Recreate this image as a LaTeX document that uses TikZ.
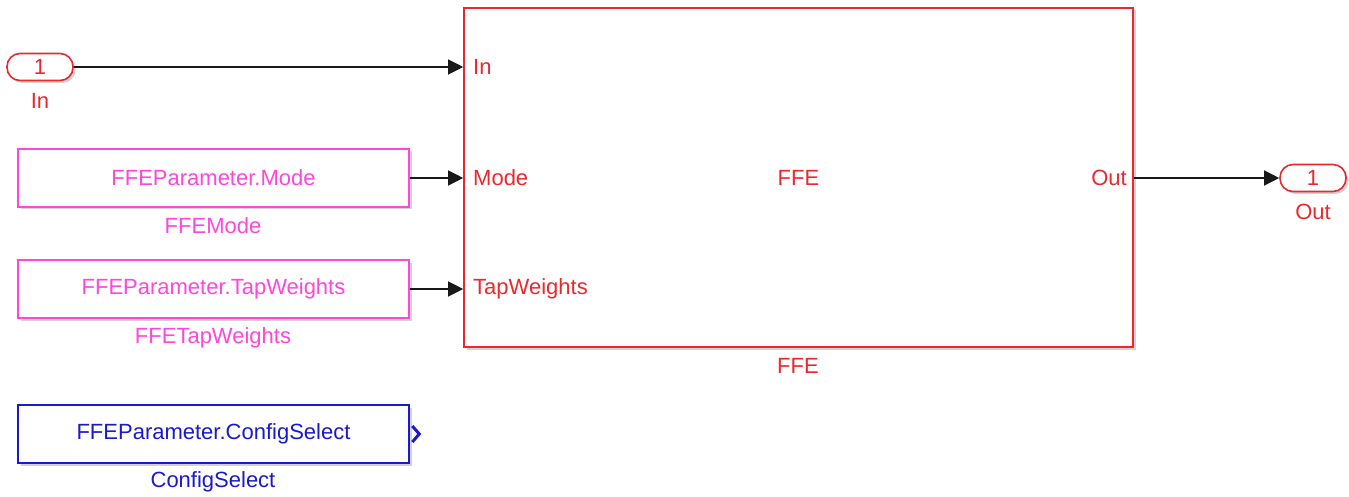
\documentclass[tikz,border=0pt]{standalone}
\usepackage{fontspec}
\setmainfont{Liberation Sans}
\usetikzlibrary{arrows.meta,shadows,positioning}

\definecolor{simred}{RGB}{235,40,45}
\definecolor{simpink}{RGB}{255,70,220}
\definecolor{simblue}{RGB}{25,25,205}

\tikzset{
  blk/.style={draw,line width=1.6pt,fill=white,inner sep=0pt,
    drop shadow={shadow xshift=2.5pt,shadow yshift=-2.5pt,fill=black!35},
    font=\fontsize{22}{26}\selectfont},
  port/.style={blk,rounded corners=13pt,minimum width=66pt,minimum height=27pt,
    draw=simred,text=simred},
  const/.style={blk,minimum width=391pt,minimum height=58pt},
  lbl/.style={inner sep=0pt,font=\fontsize{22}{26}\selectfont},
  sig/.style={-{Triangle[length=15pt,width=15pt]},line width=1.2pt,black!90},
}

\begin{document}
\begin{tikzpicture}[x=1pt,y=-1pt]
  \useasboundingbox (0,0) rectangle (1349,497);

  % inport
  \node[port] (inport) at (40,67) {1};
  \node[lbl,text=simred] (inlbl) at (40,101) {In};

  % subsystem
  \node[blk,draw=simred,text=simred,minimum width=669pt,minimum height=339pt]
    (ffe) at (798.5,177.5) {FFE};
  \node[lbl,text=simred] (ffelbl) at (798,366) {FFE};
  \node[lbl,text=simred,anchor=west] (ffein) at (473,67) {In};
  \node[lbl,text=simred,anchor=west] (ffemode) at (473,178) {Mode};
  \node[lbl,text=simred,anchor=west] (ffetap) at (473,289) {TapWeights};
  \node[lbl,text=simred,anchor=east] (ffeout) at (1127,178) {Out};

  % constants
  \node[const,draw=simpink,text=simpink] (mode) at (213.5,178) {FFEParameter.Mode};
  \node[lbl,text=simpink] (modelbl) at (213,226) {FFEMode};
  \node[const,draw=simpink,text=simpink] (tap) at (213.5,289) {FFEParameter.TapWeights};
  \node[lbl,text=simpink] (taplbl) at (213,338) {FFETapWeights};
  \node[const,draw=simblue,text=simblue] (cfg) at (213.5,434) {FFEParameter.ConfigSelect};
  \node[lbl,text=simblue] (cfglbl) at (213,482) {ConfigSelect};
  \draw[simblue,line width=3pt] ([xshift=2.5pt,yshift=8pt]cfg.east)
    -- ++(7pt,-8pt) -- ++(-7pt,-8pt);

  % outport
  \node[port] (outport) at (1313,178) {1};
  \node[lbl,text=simred] (outlbl) at (1313,212) {Out};

  % signals
  \draw[sig] (inport.east) -- (inport.east -| ffe.west);
  \draw[sig] (mode.east) -- (mode.east -| ffe.west);
  \draw[sig] (tap.east) -- (tap.east -| ffe.west);
  \draw[sig] (ffe.east |- ffeout) -- (outport.west);
\end{tikzpicture}
\end{document}
